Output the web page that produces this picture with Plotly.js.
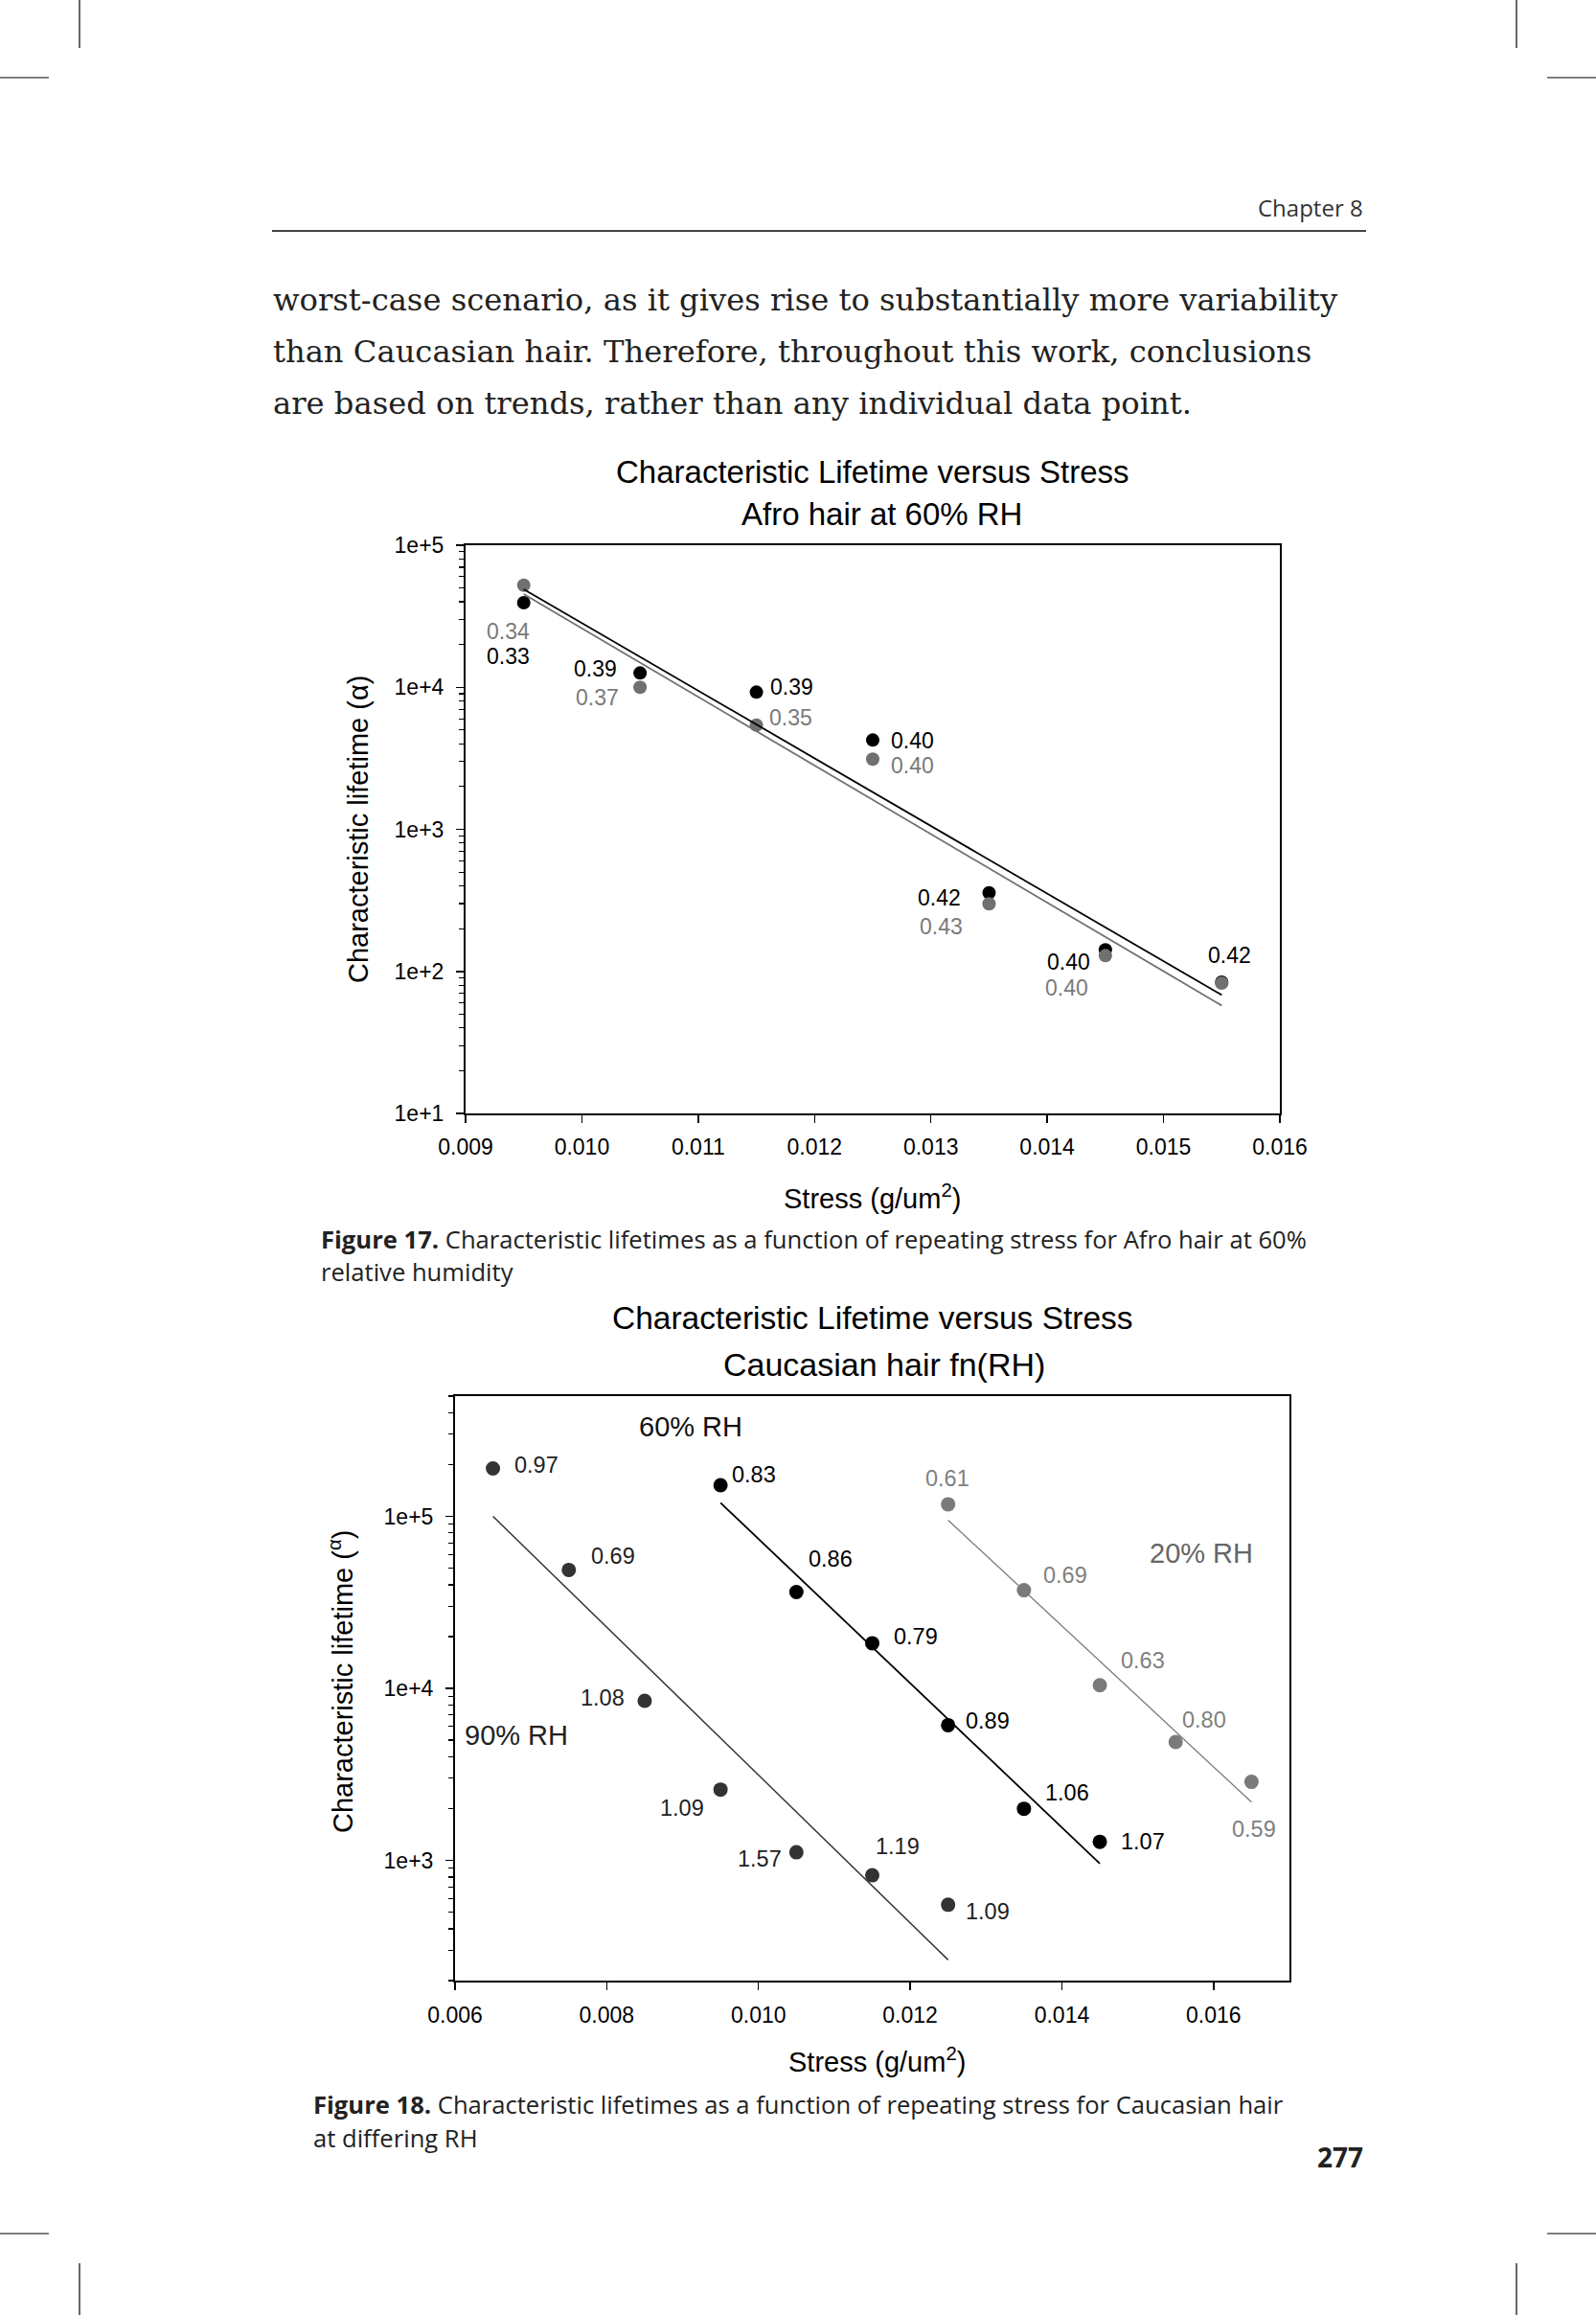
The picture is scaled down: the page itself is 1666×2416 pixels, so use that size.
<!DOCTYPE html>
<html>
<head>
<meta charset="utf-8">
<script src="https://cdn.plot.ly/plotly-3.0.1.min.js"></script>
<style>
html,body{margin:0;padding:0;background:#fff;}
#page{width:1666px;height:2416px;}
</style>
</head>
<body>
<div id="page"></div>
<script>
// ---------------- DATA: Figure 17 (Afro hair at 60% RH) ----------------
const afroStress = [0.0095, 0.0105, 0.0115, 0.0125, 0.0135, 0.0145, 0.0155];
const afroBlack = [39400, 12600, 9240, 4250, 357, 142, 84];
const afroGray  = [52300, 10000, 5420, 3120, 299, 129, 82.6];
const afroBlackBeta = ["0.33", "0.39", "0.39", "0.40", "0.42", "0.40", "0.42"];
const afroGrayBeta  = ["0.34", "0.37", "0.35", "0.40", "0.43", "0.40", ""];
const afroFitX = [0.0095, 0.0155];
const afroFitBlack = [49000, 68.2];
const afroFitGray = [45300, 57.5];
const afroXTicks = [0.009, 0.010, 0.011, 0.012, 0.013, 0.014, 0.015, 0.016];
const afroXTickText = ["0.009", "0.010", "0.011", "0.012", "0.013", "0.014", "0.015", "0.016"];
const afroYTicks = [10, 100, 1000, 10000, 100000];
const afroYTickText = ["1e+1", "1e+2", "1e+3", "1e+4", "1e+5"];

// ---------------- DATA: Figure 18 (Caucasian hair fn(RH)) ----------------
const rh90Stress = [0.0065, 0.0075, 0.0085, 0.0095, 0.0105, 0.0115, 0.0125];
const rh90Life   = [190000, 48800, 8470, 2580, 1114, 819, 552];
const rh90Beta   = ["0.97", "0.69", "1.08", "1.09", "1.57", "1.19", "1.09"];
const rh90FitX = [0.0065, 0.0125];
const rh90FitY = [100000, 264];

const rh60Stress = [0.0095, 0.0105, 0.0115, 0.0125, 0.0135, 0.0145];
const rh60Life   = [151800, 36300, 18300, 6110, 1996, 1282];
const rh60Beta   = ["0.83", "0.86", "0.79", "0.89", "1.06", "1.07"];
const rh60FitX = [0.0095, 0.0145];
const rh60FitY = [119700, 959];

const rh20Stress = [0.0125, 0.0135, 0.0145, 0.0155, 0.0165];
const rh20Life   = [117500, 37200, 10430, 4880, 2860];
const rh20Beta   = ["0.61", "0.69", "0.63", "0.80", "0.59"];
const rh20FitX = [0.0125, 0.0165];
const rh20FitY = [95000, 2180];

const cauXTicks = [0.006, 0.008, 0.010, 0.012, 0.014, 0.016];
const cauXTickText = ["0.006", "0.008", "0.010", "0.012", "0.014", "0.016"];
const cauYTicks = [1000, 10000, 100000];
const cauYTickText = ["1e+3", "1e+4", "1e+5"];

// ---------------- LAYOUT HELPERS ----------------
const W = 1666, H = 2416;
const px = x => x / W;
const py = y => 1 - y / H;
const SANS = "Liberation Sans, Arial, sans-serif";
const SERIF = "DejaVu Serif, serif";
const CAP = "Open Sans, sans-serif";

function minorVals(lo, hi) {
  const v = [];
  for (let d = lo; d < hi; d++) {
    for (let m = 2; m <= 9; m++) v.push(m * Math.pow(10, d));
  }
  return v;
}

const BLACK = "#000000", GRAY = "#707070", DARK = "#333333", LGRAY = "#7a7a7a";

const traces = [
  // Fig 17
  {x: afroStress, y: afroBlack, xaxis: "x", yaxis: "y", mode: "markers", type: "scatter",
   marker: {color: BLACK, size: 14}, hoverinfo: "skip"},
  {x: afroStress, y: afroGray, xaxis: "x", yaxis: "y", mode: "markers", type: "scatter",
   marker: {color: GRAY, size: 14}, hoverinfo: "skip"},
  {x: afroFitX, y: afroFitBlack, xaxis: "x", yaxis: "y", mode: "lines", type: "scatter",
   line: {color: BLACK, width: 1.8}, hoverinfo: "skip"},
  {x: afroFitX, y: afroFitGray, xaxis: "x", yaxis: "y", mode: "lines", type: "scatter",
   line: {color: GRAY, width: 1.8}, hoverinfo: "skip"},
  // Fig 18
  {x: rh90Stress, y: rh90Life, xaxis: "x2", yaxis: "y2", mode: "markers", type: "scatter",
   marker: {color: DARK, size: 15}, hoverinfo: "skip"},
  {x: rh90FitX, y: rh90FitY, xaxis: "x2", yaxis: "y2", mode: "lines", type: "scatter",
   line: {color: DARK, width: 1.5}, hoverinfo: "skip"},
  {x: rh60Stress, y: rh60Life, xaxis: "x2", yaxis: "y2", mode: "markers", type: "scatter",
   marker: {color: BLACK, size: 15}, hoverinfo: "skip"},
  {x: rh60FitX, y: rh60FitY, xaxis: "x2", yaxis: "y2", mode: "lines", type: "scatter",
   line: {color: BLACK, width: 1.8}, hoverinfo: "skip"},
  {x: rh20Stress, y: rh20Life, xaxis: "x2", yaxis: "y2", mode: "markers", type: "scatter",
   marker: {color: LGRAY, size: 15}, hoverinfo: "skip"},
  {x: rh20FitX, y: rh20FitY, xaxis: "x2", yaxis: "y2", mode: "lines", type: "scatter",
   line: {color: LGRAY, width: 1.3}, hoverinfo: "skip"}
];

const ann = [];
function pageText(text, x, y, font, xanchor, extra) {
  ann.push(Object.assign({text: text, x: px(x), y: py(y), xref: "paper", yref: "paper",
    showarrow: false, xanchor: xanchor || "center", yanchor: "middle", font: font}, extra || {}));
}
function pointLabel(xs, ys, labels, offsets, xa, ya, font) {
  for (let i = 0; i < xs.length; i++) {
    if (!labels[i]) continue;
    ann.push({text: labels[i], x: xs[i], y: Math.log10(ys[i]), xref: xa, yref: ya,
      showarrow: false, xanchor: "center", yanchor: "middle",
      xshift: offsets[i][0], yshift: -offsets[i][1], font: font});
  }
}

// page furniture
pageText("Chapter 8", 1425, 216, {family: CAP, size: 24, color: "#333"}, "right");
pageText("worst-case scenario, as it gives rise to substantially more variability", 283, 313, {family: SERIF, size: 32.2, color: "#222"}, "left");
pageText("than Caucasian hair. Therefore, throughout this work, conclusions", 283, 367, {family: SERIF, size: 32.2, color: "#222"}, "left");
pageText("are based on trends, rather than any individual data point.", 283, 421, {family: SERIF, size: 32.2, color: "#222"}, "left");

// Fig 17 titles
pageText("Characteristic Lifetime versus Stress", 911, 493, {family: SANS, size: 33, color: "#000"});
pageText("Afro hair at 60% RH", 920, 536, {family: SANS, size: 33, color: "#000"});
pageText("Stress (g/um<sup>2</sup>)", 911, 1249, {family: SANS, size: 29, color: "#000"});
pageText("Characteristic lifetime (α)", 374, 866, {family: SANS, size: 29, color: "#000"}, "center", {textangle: -90});
pageText("<b>Figure 17.</b> Characteristic lifetimes as a function of repeating stress for Afro hair at 60%", 333, 1293, {family: CAP, size: 25.6, color: "#222"}, "left");
pageText("relative humidity", 333, 1327, {family: CAP, size: 25.6, color: "#222"}, "left");

// Fig 18 titles
pageText("Characteristic Lifetime versus Stress", 911, 1375, {family: SANS, size: 33.5, color: "#000"});
pageText("Caucasian hair fn(RH)", 923, 1424, {family: SANS, size: 34, color: "#000"});
pageText("Stress (g/um<sup>2</sup>)", 915, 2150, {family: SANS, size: 29, color: "#000"});
pageText("Characteristic lifetime (<sup>α</sup>)", 356, 1755, {family: SANS, size: 29, color: "#000"}, "center", {textangle: -90});
pageText("<b>Figure 18.</b> Characteristic lifetimes as a function of repeating stress for Caucasian hair", 325, 2196, {family: CAP, size: 25.6, color: "#222"}, "left");
pageText("at differing RH", 325, 2231, {family: CAP, size: 25.6, color: "#222"}, "left");
pageText("<b>277</b>", 1425, 2251, {family: CAP, size: 28, color: "#222"}, "right");

// series labels in Fig 18
pageText("60% RH", 721, 1489, {family: SANS, size: 29, color: "#111"});
pageText("20% RH", 1254, 1621, {family: SANS, size: 29, color: "#666"});
pageText("90% RH", 539, 1811, {family: SANS, size: 29, color: "#222"});

// point labels (offsets in px from each point)
const LF = size => ({family: SANS, size: size});
pointLabel(afroStress, afroBlack, afroBlackBeta,
  [[-16, 56], [-47, -4], [37, -5], [41, 1], [-52, 5], [-38, 13], [8, -28]], "x", "y",
  Object.assign(LF(23), {color: "#000"}));
pointLabel(afroStress, afroGray, afroGrayBeta,
  [[-16, 48], [-45, 11], [36, -8], [41, 7], [-50, 24], [-40, 34], [0, 0]], "x", "y",
  Object.assign(LF(23), {color: "#7a7a7a"}));
pointLabel(rh90Stress, rh90Life, rh90Beta,
  [[45, -3], [46, -14], [-44, -3], [-40, 19], [-38, 7], [26, -30], [41, 7]], "x2", "y2",
  Object.assign(LF(23.5), {color: "#222"}));
pointLabel(rh60Stress, rh60Life, rh60Beta,
  [[35, -11], [36, -34], [45, -7], [41, -4], [45, -17], [45, 0]], "x2", "y2",
  Object.assign(LF(23.5), {color: "#000"}));
pointLabel(rh20Stress, rh20Life, rh20Beta,
  [[-1, -27], [43, -16], [45, -26], [30, -23], [3, 49]], "x2", "y2",
  Object.assign(LF(23.5), {color: "#808080"}));

// crop marks and header rule
const shapes = [];
function pline(x0, y0, x1, y1, color, width) {
  shapes.push({type: "line", xref: "paper", yref: "paper", x0: px(x0), y0: py(y0), x1: px(x1), y1: py(y1),
    line: {color: color, width: width}});
}
pline(83, 0, 83, 50, "#000", 1.2);
pline(1583, 0, 1583, 50, "#000", 1.2);
pline(0, 81, 51, 81, "#000", 1.2);
pline(1615, 81, 1666, 81, "#000", 1.2);
pline(0, 2331, 51, 2331, "#000", 1.2);
pline(1615, 2331, 1666, 2331, "#000", 1.2);
pline(83, 2362, 83, 2416, "#000", 1.2);
pline(1583, 2362, 1583, 2416, "#000", 1.2);
pline(284, 241, 1426, 241, "#444", 2);

const axBase = {
  showgrid: false, zeroline: false, showline: true, linecolor: "#000", linewidth: 2, mirror: true,
  ticks: "outside", ticklen: 8, tickwidth: 1.5, tickcolor: "#000",
  tickfont: {family: SANS, size: 23, color: "#000"}, fixedrange: true
};

const layout = {
  width: W, height: H,
  margin: {l: 0, r: 0, t: 0, b: 0, pad: 0},
  paper_bgcolor: "#fff", plot_bgcolor: "#fff",
  showlegend: false,
  xaxis: Object.assign({}, axBase, {
    domain: [px(486), px(1336)], anchor: "y", range: [0.009, 0.016],
    tickmode: "array", tickvals: afroXTicks, ticktext: afroXTickText, ticklabelstandoff: 5
  }),
  yaxis: Object.assign({}, axBase, {
    domain: [py(1162), py(569)], anchor: "x", type: "log", range: [1, 5],
    tickmode: "array", tickvals: afroYTicks, ticktext: afroYTickText, ticklabelstandoff: 8,
    minor: {ticks: "outside", ticklen: 5, tickwidth: 1.2, tickcolor: "#000", tickmode: "array", tickvals: minorVals(1, 5)}
  }),
  xaxis2: Object.assign({}, axBase, {
    domain: [px(475), px(1346)], anchor: "y2", range: [0.006, 0.017],
    tickmode: "array", tickvals: cauXTicks, ticktext: cauXTickText, ticklabelstandoff: 6
  }),
  yaxis2: Object.assign({}, axBase, {
    domain: [py(2067), py(1457)], anchor: "x2", type: "log", range: [Math.log10(200), Math.log10(500000)],
    tickmode: "array", tickvals: cauYTicks, ticktext: cauYTickText, ticklabelstandoff: 8,
    minor: {ticks: "outside", ticklen: 5, tickwidth: 1.2, tickcolor: "#000", tickmode: "array", tickvals: minorVals(2, 6).filter(v => v <= 500000 && v >= 200)}
  }),
  annotations: ann,
  shapes: shapes
};

Plotly.newPlot("page", traces, layout, {staticPlot: true, displayModeBar: false});
</script>
</body>
</html>
